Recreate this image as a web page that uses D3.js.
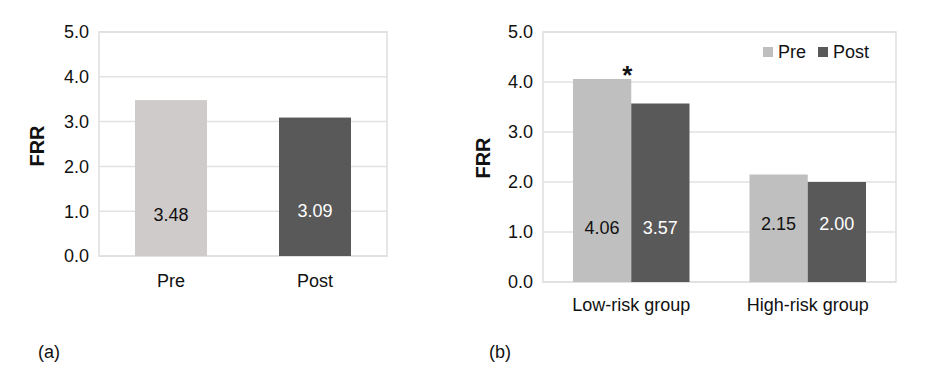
<!DOCTYPE html>
<html><head><meta charset="utf-8">
<script src="https://cdn.jsdelivr.net/npm/d3@7"></script>
<style>body{margin:0;background:#fff}svg{display:block}text{font-family:"Liberation Sans",Arial,sans-serif}</style>
</head><body>
<svg id="c" width="933" height="379"></svg>
<script>
// ---- data ----
const yTicks = [0, 1, 2, 3, 4, 5];
const yTickLabels = ["0.0", "1.0", "2.0", "3.0", "4.0", "5.0"];
const aCategories = ["Pre", "Post"];
const aValues = [3.48, 3.09];
const bGroups = ["Low-risk group", "High-risk group"];
const bSeries = ["Pre", "Post"];
const bPre = [4.06, 2.15];
const bPost = [3.57, 2.00];
const axisTitle = "FRR";
const significance = ["*", ""];

// ---- layout/style ----
const svg = d3.select("#c");
const gridC = "#e2e2e2", frameC = "#dedede";
const colA = {Pre: "#cfcbcb", Post: "#595959"};
const colB = {Pre: "#bfbfbf", Post: "#595959"};
const txtC = {Pre: "#111", Post: "#fff"};

function frame(g, x0, x1, y) {
  g.append("g").selectAll("line").data(yTicks).join("line")
    .attr("x1", x0).attr("x2", x1).attr("y1", d => y(d)).attr("y2", d => y(d))
    .attr("stroke", gridC).attr("stroke-width", 1.5);
  g.append("rect").attr("x", x0).attr("y", y(5)).attr("width", x1 - x0).attr("height", y(0) - y(5))
    .attr("fill", "none").attr("stroke", frameC).attr("stroke-width", 1.5);
  g.append("g").selectAll("text").data(yTicks).join("text")
    .attr("x", x0 - 10).attr("y", d => y(d)).attr("dy", "0.35em").attr("text-anchor", "end")
    .attr("font-size", 18).attr("fill", "#111").text((d, i) => yTickLabels[i]);
}

// ---- panel (a) ----
{
  const g = svg.append("g");
  const x0 = 99, x1 = 387;
  const y = d3.scaleLinear().domain([0, 5]).range([256, 32]);
  const x = d3.scaleBand().domain(aCategories).range([x0, x1]).paddingInner(0.5).paddingOuter(0.25);
  frame(g, x0, x1, y);
  g.selectAll("rect.bar").data(aCategories).join("rect").attr("class", "bar")
    .attr("x", d => x(d)).attr("width", x.bandwidth())
    .attr("y", (d, i) => y(aValues[i])).attr("height", (d, i) => y(0) - y(aValues[i]))
    .attr("fill", d => colA[d]);
  const labAt = [0.78, 0.87];
  g.selectAll("text.val").data(aCategories).join("text").attr("class", "val")
    .attr("x", d => x(d) + x.bandwidth() / 2).attr("y", (d, i) => y(labAt[i]))
    .attr("text-anchor", "middle").attr("font-size", 18).attr("fill", d => txtC[d])
    .text((d, i) => aValues[i].toFixed(2));
  g.selectAll("text.cat").data(aCategories).join("text").attr("class", "cat")
    .attr("x", d => x(d) + x.bandwidth() / 2).attr("y", 287)
    .attr("text-anchor", "middle").attr("font-size", 18).attr("fill", "#111").text(d => d);
  g.append("text").attr("transform", "translate(44,146) rotate(-90)")
    .attr("text-anchor", "middle").attr("font-size", 20).attr("font-weight", "bold").attr("fill", "#111").text(axisTitle);
  g.append("text").attr("x", 38).attr("y", 358).attr("font-size", 18)
    .attr("font-family", "'Noto Sans CJK KR','Noto Sans',sans-serif").attr("font-weight", 300).attr("fill", "#111").text("(a)");
}

// ---- panel (b) ----
{
  const g = svg.append("g");
  const x0 = 543, x1 = 896;
  const y = d3.scaleLinear().domain([0, 5]).range([282, 32]);
  const x = d3.scaleBand().domain(bGroups).range([x0, x1]).paddingInner(0.34).paddingOuter(0.17);
  const xs = d3.scaleBand().domain(bSeries).range([0, x.bandwidth()]);
  frame(g, x0, x1, y);
  const rows = [];
  bGroups.forEach((grp, i) => {
    rows.push({grp, s: "Pre", v: bPre[i], lab: 0.96 + (i ? 0.08 : 0)});
    rows.push({grp, s: "Post", v: bPost[i], lab: 0.96 + (i ? 0.08 : 0)});
  });
  g.selectAll("rect.bar").data(rows).join("rect").attr("class", "bar")
    .attr("x", d => x(d.grp) + xs(d.s)).attr("width", xs.bandwidth())
    .attr("y", d => y(d.v)).attr("height", d => y(0) - y(d.v)).attr("fill", d => colB[d.s]);
  g.selectAll("text.val").data(rows).join("text").attr("class", "val")
    .attr("x", d => x(d.grp) + xs(d.s) + xs.bandwidth() / 2).attr("y", d => y(d.lab))
    .attr("text-anchor", "middle").attr("font-size", 18).attr("fill", d => txtC[d.s])
    .text(d => d.v.toFixed(2));
  g.selectAll("text.sig").data(bGroups).join("text").attr("class", "sig")
    .attr("x", (d, i) => x(d) + xs("Pre") + xs.bandwidth() - 4).attr("y", (d, i) => y(bPre[i]) + 5)
    .attr("text-anchor", "middle").attr("font-size", 26).attr("font-weight", "bold").attr("fill", "#111")
    .text((d, i) => significance[i]);
  g.selectAll("text.cat").data(bGroups).join("text").attr("class", "cat")
    .attr("x", d => x(d) + x.bandwidth() / 2).attr("y", 311)
    .attr("text-anchor", "middle").attr("font-size", 18).attr("fill", "#111").text(d => d);
  g.append("text").attr("transform", "translate(490,158) rotate(-90)")
    .attr("text-anchor", "middle").attr("font-size", 20).attr("font-weight", "bold").attr("fill", "#111").text(axisTitle);
  // legend
  const lx = [763, 818];
  const lg = g.append("g").selectAll("g").data(bSeries).join("g")
    .attr("transform", (d, i) => `translate(${lx[i]},47)`);
  lg.append("rect").attr("width", 10).attr("height", 10).attr("fill", d => colB[d]);
  lg.append("text").attr("x", 15).attr("y", 5).attr("dy", "0.35em").attr("font-size", 18).attr("fill", "#111").text(d => d);
  g.append("text").attr("x", 489).attr("y", 358).attr("font-size", 18)
    .attr("font-family", "'Noto Sans CJK KR','Noto Sans',sans-serif").attr("font-weight", 300).attr("fill", "#111").text("(b)");
}
</script>
</body></html>
